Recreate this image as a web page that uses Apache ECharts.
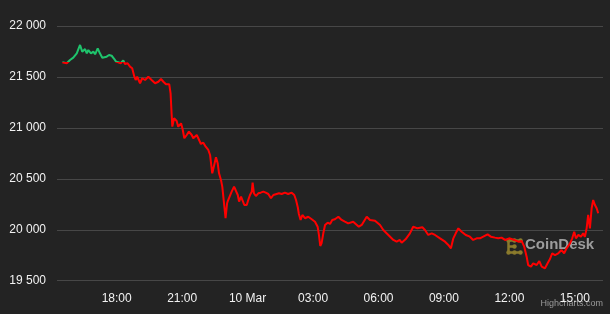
<!DOCTYPE html>
<html>
<head>
<meta charset="utf-8">
<script src="https://cdn.jsdelivr.net/npm/echarts@6/dist/echarts.min.js"></script>
<style>
html,body{margin:0;padding:0;background:#232323;}
#c{width:610px;height:314px;}
</style>
</head>
<body>
<div id="c"></div>
<script>
// Time in hours since 9 Mar 00:00 (24 = 10 Mar 00:00)
const hours = [15.51,15.71,15.86,16.01,16.17,16.32,16.42,16.55,16.63,16.70,16.82,16.93,17.01,17.13,17.23,17.34,17.43,17.54,17.65,17.77,17.89,17.97,18.07,18.18,18.30,18.38,18.50,18.61,18.71,18.81,18.87,18.94,19.07,19.17,19.30,19.45,19.60,19.76,19.91,20.03,20.14,20.26,20.34,20.41,20.47,20.52,20.55,20.63,20.75,20.82,20.95,21.02,21.10,21.21,21.31,21.44,21.51,21.67,21.74,21.86,21.97,22.08,22.20,22.28,22.38,22.47,22.55,22.63,22.69,22.78,22.84,22.93,22.99,23.06,23.11,23.19,23.27,23.38,23.45,23.55,23.61,23.70,23.77,23.85,23.96,24.03,24.11,24.19,24.23,24.29,24.38,24.49,24.60,24.72,24.83,24.95,25.07,25.18,25.33,25.44,25.56,25.71,25.86,26.02,26.14,26.22,26.30,26.35,26.43,26.51,26.63,26.78,26.94,27.09,27.21,27.27,27.33,27.39,27.47,27.55,27.67,27.78,27.88,28.00,28.16,28.31,28.46,28.61,28.84,29.10,29.23,29.46,29.61,29.84,30.07,30.22,30.45,30.68,30.83,30.98,31.06,31.24,31.44,31.59,31.79,32.01,32.13,32.28,32.44,32.59,32.82,33.05,33.20,33.32,33.43,33.54,33.66,33.81,34.00,34.19,34.34,34.50,34.65,34.80,35.00,35.15,35.34,35.49,35.64,35.80,36.02,36.22,36.41,36.56,36.68,36.79,36.86,36.99,37.09,37.25,37.37,37.48,37.63,37.75,37.86,37.96,38.09,38.24,38.39,38.51,38.62,38.78,38.88,38.97,39.05,39.16,39.28,39.38,39.46,39.54,39.61,39.69,39.77,39.84,39.92,40.00,40.07];
const prices = [21644,21634,21666,21689,21732,21814,21748,21774,21732,21764,21732,21748,21722,21781,21732,21689,21708,21699,21715,21708,21676,21650,21644,21634,21663,21627,21634,21601,21585,21502,21470,21502,21438,21487,21470,21502,21470,21438,21453,21480,21453,21428,21447,21428,21339,21126,21012,21094,21068,21012,21045,20989,20898,20930,20963,20930,20898,20930,20898,20842,20855,20815,20783,20734,20554,20636,20711,20652,20554,20488,20423,20407,20113,20260,20292,20276,20374,20423,20390,20341,20276,20325,20309,20243,20243,20292,20341,20374,20462,20358,20331,20358,20364,20374,20364,20351,20309,20341,20351,20358,20351,20364,20351,20364,20341,20292,20221,20155,20096,20145,20113,20128,20103,20079,20030,19949,19841,19867,19965,20047,20069,20057,20096,20103,20128,20096,20079,20063,20079,20030,20047,20128,20096,20089,20047,19998,19949,19900,19883,19900,19873,19906,19965,20030,20014,20024,19998,19949,19965,19949,19916,19883,19851,19818,19916,19965,20014,19981,19949,19932,19900,19916,19916,19932,19955,19932,19923,19916,19923,19900,19916,19900,19883,19890,19834,19736,19654,19638,19671,19654,19693,19638,19622,19671,19713,19769,19752,19769,19801,19769,19818,19867,19916,19981,19916,19949,19932,19965,19932,20014,20145,20014,20211,20292,20243,20211,20162];
const openPrice = 21648;
const xTicks = [18,21,24,27,30,33,36,39];
const yTicks = [19500,20000,20500,21000,21500,22000];

const data = hours.map((h,i)=>[h,prices[i]]);
const chart = echarts.init(document.getElementById('c'), null, {renderer:'canvas'});
const font = '"Liberation Sans", Arial, sans-serif';
function fmtX(v){
  if (Math.abs(v-24)<1e-6) return '10 Mar';
  const hh = ((Math.round(v)%24)+24)%24;
  return (hh<10?'0':'')+hh+':00';
}
function fmtY(v){
  return String(v).replace(/\B(?=(\d{3})+(?!\d))/g,' ');
}
const yMin = yTicks[0], yMax = yTicks[yTicks.length-1];
const GREEN = '#1ec46c', RED = '#ff0000';
function lineColor(py){
  return {type:'linear', x:0, y:0, x2:0, y2:314, global:true,
    colorStops:[
      {offset:0,color:GREEN},{offset:py/314,color:GREEN},
      {offset:py/314,color:RED},{offset:1,color:RED}
    ]};
}
chart.setOption({
  backgroundColor:'#232323',
  animation:false,
  grid:{left:57,right:7,top:26,bottom:33.3,containLabel:false},
  xAxis:{
    type:'value', min:15.264, max:40.29,
    axisLine:{show:false}, axisTick:{show:false, customValues:xTicks}, splitLine:{show:false},
    axisLabel:{customValues:xTicks, formatter:fmtX, color:'#f2f2f2', fontSize:12, fontFamily:font, margin:12}
  },
  yAxis:{
    type:'value', min:yMin, max:yMax, interval:500,
    axisLine:{show:false}, axisTick:{show:false},
    splitLine:{lineStyle:{color:'#474747',width:1}},
    axisLabel:{formatter:fmtY, color:'#f2f2f2', fontSize:12, fontFamily:font, margin:11}
  },
  series:[{
    type:'line', data:data, showSymbol:false, symbol:'none', smooth:false,
    lineStyle:{width:2, color:RED}
  }],
  graphic:[
    {type:'group', left:506, top:238, children:[
      {type:'polyline', shape:{points:[[13,2],[2,2],[2,14],[13,14]]}, style:{stroke:'#8a7a2c',lineWidth:2.5,fill:null}},
      {type:'polyline', shape:{points:[[2,8],[8,8]]}, style:{stroke:'#8a7a2c',lineWidth:2.5,fill:null}},
      {type:'circle', shape:{cx:2,cy:2,r:2.2}, style:{fill:'#8a7a2c'}},
      {type:'circle', shape:{cx:8,cy:2,r:2.2}, style:{fill:'#8a7a2c'}},
      {type:'circle', shape:{cx:14,cy:2,r:2.2}, style:{fill:'#8a7a2c'}},
      {type:'circle', shape:{cx:2,cy:14,r:2.2}, style:{fill:'#8a7a2c'}},
      {type:'circle', shape:{cx:8,cy:14,r:2.2}, style:{fill:'#8a7a2c'}},
      {type:'circle', shape:{cx:14,cy:14,r:2.2}, style:{fill:'#8a7a2c'}},
      {type:'circle', shape:{cx:8,cy:8,r:2.2}, style:{fill:'#8a7a2c'}}
    ]},
    {type:'text', left:525, top:237, style:{text:'CoinDesk', fill:'#9c9c9c', font:'bold 15px "Liberation Sans", Arial, sans-serif'}},
    {type:'text', right:7, top:299, style:{text:'Highcharts.com', fill:'#9a9a9a', font:'9px "Liberation Sans", Arial, sans-serif'}}
  ]
});
const py = chart.convertToPixel({gridIndex:0}, [hours[0], openPrice])[1];
chart.setOption({series:[{lineStyle:{color:lineColor(py)}}]});
</script>
</body>
</html>
